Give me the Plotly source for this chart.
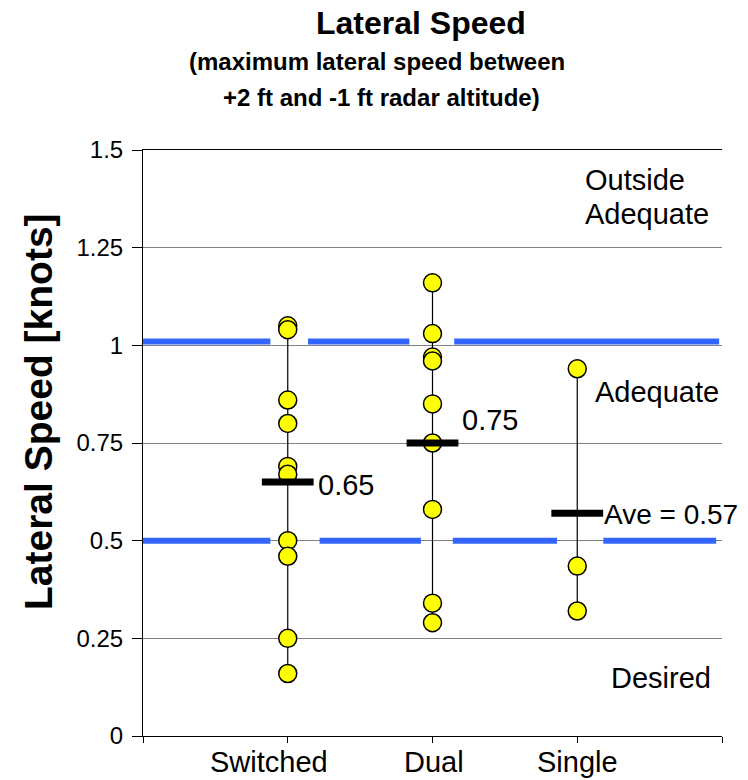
import plotly.graph_objects as go

# ---- data ----
categories = ["Switched", "Dual", "Single"]
cat_pos = [1, 2, 3]
switched = [1.05, 1.04, 0.86, 0.80, 0.69, 0.67, 0.50, 0.46, 0.25, 0.16]
dual = [1.16, 1.03, 0.97, 0.96, 0.85, 0.75, 0.58, 0.34, 0.29]
single = [0.94, 0.435, 0.32]
averages = [0.65, 0.75, 0.57]
avg_labels = ["0.65", "0.75", "Ave = 0.57"]

# boundary lines (level, list of dash segments in axis units)
adequate_level = 1.01
adequate_segments = [(0.0, 0.88), (1.14, 1.84), (2.15, 3.98)]
desired_level = 0.50
desired_segments = [(0.0, 0.88), (1.22, 1.92), (2.14, 2.86), (3.18, 3.96)]

y_ticks = [0, 0.25, 0.5, 0.75, 1, 1.25, 1.5]
y_tick_text = ["0", "0.25", "0.5", "0.75", "1", "1.25", "1.5"]

FONT = "Arial, Liberation Sans, sans-serif"
BLUE = "#3366FF"

W, H = 740, 772
ML, MR, MT, MB = 135, 26, 142, 44
PW = W - ML - MR

fig = go.Figure()

# boundary dashes
for level, segs in [(adequate_level, adequate_segments), (desired_level, desired_segments)]:
    xs, ys = [], []
    for a, b in segs:
        xs += [a, b, None]
        ys += [level, level, None]
    fig.add_trace(go.Scatter(x=xs, y=ys, mode="lines",
                             line=dict(color=BLUE, width=6),
                             hoverinfo="skip", showlegend=False))

groups = [switched, dual, single]
# range lines
for xp, vals in zip(cat_pos, groups):
    fig.add_trace(go.Scatter(x=[xp, xp], y=[min(vals), max(vals)], mode="lines",
                             line=dict(color="black", width=1.2),
                             hoverinfo="skip", showlegend=False))
# points
for xp, vals in zip(cat_pos, groups):
    fig.add_trace(go.Scatter(x=[xp] * len(vals), y=vals, mode="markers",
                             marker=dict(color="#FFFF00", size=18,
                                         line=dict(color="black", width=1.5)),
                             showlegend=False))
# averages
fig.add_trace(go.Scatter(x=cat_pos, y=averages, mode="markers",
                         marker=dict(symbol="line-ew", size=37,
                                     line=dict(color="black", width=7)),
                         showlegend=False))

AF = dict(size=29, color="black", family=FONT)
ann = []
label_x = [1.195, 2.19, 3.168]
label_y = [0.642, 0.809, 0.568]
label_size = [29, 29, 28]
for lx, ly, t, ls in zip(label_x, label_y, avg_labels, label_size):
    ann.append(dict(x=lx, y=ly, text=t, showarrow=False, xanchor="left",
                    yanchor="middle", font=dict(size=ls, color="black", family=FONT)))

zone_labels = [("Outside", 3.04, 1.423), ("Adequate", 3.04, 1.337),
               ("Adequate", 3.109, 0.880), ("Desired", 3.219, 0.148)]
for t, zx, zy in zone_labels:
    ann.append(dict(x=zx, y=zy, text=t, showarrow=False, xanchor="left",
                    yanchor="middle", font=AF))

cat_label_x = [0.870, 2.010, 3.005]
for xp, c in zip(cat_label_x, categories):
    ann.append(dict(x=xp, y=0, xref="x", yref="paper", yshift=-26, text=c,
                    showarrow=False, yanchor="middle", xanchor="center", font=AF))

# titles (centre x in figure px, font size, shift above plot top)
title_lines = [("<b>Lateral Speed</b>", 413, 32, 127),
               ("<b>(maximum lateral speed between</b>", 369, 24, 89),
               ("<b>+2 ft and -1 ft radar altitude)</b>", 373, 24, 53)]
for t, cx, s, sh in title_lines:
    ann.append(dict(x=(cx - ML) / PW, xref="paper", y=1, yref="paper", text=t,
                    showarrow=False, yshift=sh, yanchor="middle", xanchor="center",
                    font=dict(size=s, color="black", family=FONT)))

ann.append(dict(x=0, xref="paper", xshift=30 - ML, xanchor="center",
                y=(736 - 412) / 586, yref="paper", yanchor="middle",
                text="<b>Lateral Speed [knots]</b>", textangle=-90, showarrow=False,
                font=dict(size=39, color="black", family=FONT)))

fig.update_layout(
    width=W, height=H,
    margin=dict(l=ML, r=MR, t=MT, b=MB),
    paper_bgcolor="white", plot_bgcolor="white",
    font=dict(family=FONT, color="black"),
    annotations=ann,
    xaxis=dict(range=[0, 4], tickvals=[0, 1, 2, 3, 4], showticklabels=False,
               ticks="outside", ticklen=6, tickcolor="black", showgrid=False,
               zeroline=False, showline=True, linecolor="black", linewidth=1,
               mirror=True),
    yaxis=dict(range=[0, 1.5], tickvals=y_ticks, ticktext=y_tick_text,
               ticks="outside", ticklen=10, tickcolor="black",
               ticklabelstandoff=4,
               tickfont=dict(size=24, color="black", family=FONT),
               showgrid=True, gridcolor="#808080", gridwidth=1,
               zeroline=False, showline=True, linecolor="black", linewidth=1),
)

fig.write_html("out.html")
